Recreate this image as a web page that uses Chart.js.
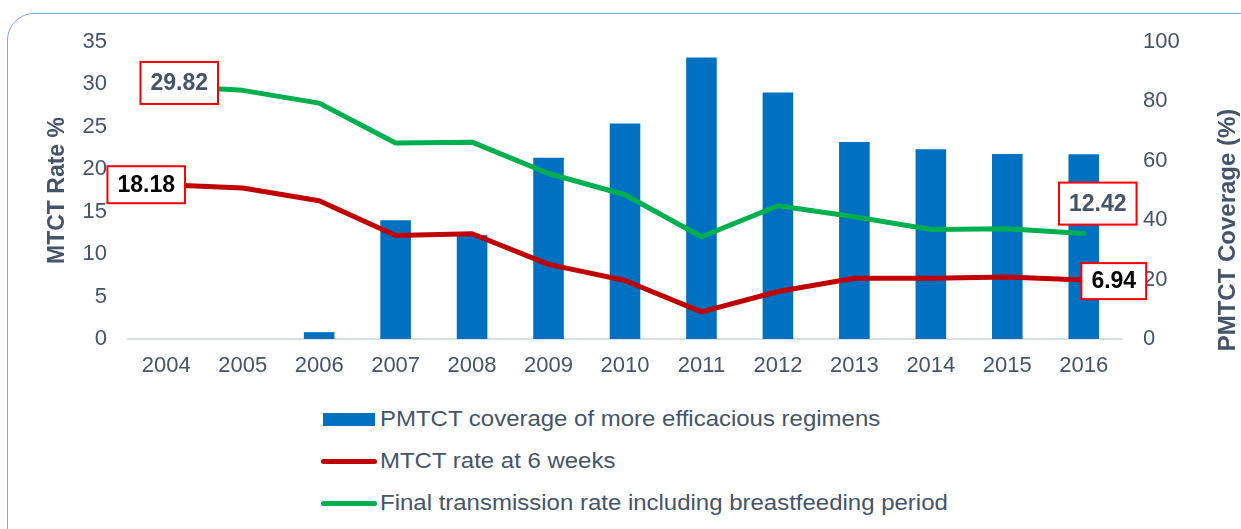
<!DOCTYPE html>
<html>
<head>
<meta charset="utf-8">
<script src="https://cdn.jsdelivr.net/npm/chart.js"></script>
<style>
  body { margin: 0; background: #fff; font-family: "Liberation Sans", Arial, sans-serif; }
  .rahmen {
    position: absolute; left: 7px; top: 13px; width: 1262px; height: 560px;
    border: 1.5px solid #7fa8da; border-radius: 27px; box-sizing: border-box;
  }
  .grafik-kutu { position: absolute; left: 0; top: 0; width: 1241px; height: 390px; }
  .lejant { position: absolute; left: 321px; height: 30px; display: flex; align-items: center;
    font-size: 22px; color: #44546a; white-space: nowrap; }
  .lejant .kutu { width: 52px; height: 13px; margin-left: 2px; margin-right: 5px; }
  .lejant .cizgi { width: 56px; height: 5px; border-radius: 3px; margin-right: 3px; }
  .lejant .metin { display: inline-block; transform: scaleX(1.09); transform-origin: left center; }
</style>
</head>
<body>
<div class="rahmen"></div>
<div class="grafik-kutu"><canvas id="grafik"></canvas></div>
<div class="lejant" style="top:404px"><span class="kutu" style="background:#0070c0"></span><span class="metin">PMTCT coverage of more efficacious regimens</span></div>
<div class="lejant" style="top:446px"><span class="cizgi" style="background:#c00000"></span><span class="metin">MTCT rate at 6 weeks</span></div>
<div class="lejant" style="top:488px"><span class="cizgi" style="background:#00b050"></span><span class="metin">Final transmission rate including breastfeeding period</span></div>
<script>
const yillar = ["2004", "2005", "2006", "2007", "2008", "2009", "2010", "2011", "2012", "2013", "2014", "2015", "2016"];
const kapsam = [0, 0, 2.3, 40, 35, 61, 72.6, 94.8, 83, 66.3, 63.9, 62.3, 62.2];
const altiHafta = [18.18, 17.8, 16.3, 12.2, 12.4, 8.8, 6.9, 3.2, 5.6, 7.15, 7.15, 7.3, 6.94];
const sonOran = [29.82, 29.3, 27.8, 23.1, 23.2, 19.5, 17.0, 12.05, 15.7, 14.4, 12.9, 13.0, 12.42];
const solTikler = [0, 5, 10, 15, 20, 25, 30, 35];
const sagTikler = [0, 20, 40, 60, 80, 100];

const yaziRengi = "#44546a";
Chart.defaults.font.family = "'Liberation Sans', Arial, sans-serif";

// kirmizi cerceveli etiketler: dataset, nokta, kayma, kutu yuksekligi
const etiketler = [
  { ds: 2, i: 0, dx: 13, dy: -3, h: 42, renk: yaziRengi },
  { ds: 1, i: 0, dx: -20, dy: 0, h: 37, renk: "#000" },
  { ds: 2, i: 12, dx: 14, dy: -30, h: 42, renk: yaziRengi },
  { ds: 1, i: 12, dx: 30, dy: 1, h: 36, renk: "#000" }
];

const etiketEklentisi = {
  id: "etiketler",
  afterDatasetsDraw(chart) {
    const ctx = chart.ctx;
    ctx.save();
    ctx.font = "bold 23px 'Liberation Sans', Arial, sans-serif";
    ctx.textAlign = "center";
    ctx.textBaseline = "middle";
    etiketler.forEach((e) => {
      const nokta = chart.getDatasetMeta(e.ds).data[e.i];
      const deger = chart.data.datasets[e.ds].data[e.i].toFixed(2);
      const x = nokta.x + e.dx;
      const y = nokta.y + e.dy;
      const w = ctx.measureText(deger).width + 20;
      ctx.fillStyle = "#fff";
      ctx.fillRect(x - w / 2, y - e.h / 2, w, e.h);
      ctx.strokeStyle = "#ff0000";
      ctx.lineWidth = 2;
      ctx.strokeRect(x - w / 2, y - e.h / 2, w, e.h);
      ctx.fillStyle = e.renk;
      ctx.fillText(deger, x, y + 1);
    });
    ctx.restore();
  },
  afterDraw(chart) {
    // sag eksen basligi, referansta biraz asagida duruyor
    const ctx = chart.ctx;
    ctx.save();
    ctx.translate(1228, 230);
    ctx.rotate(-Math.PI / 2);
    ctx.font = "bold 24px 'Liberation Sans', Arial, sans-serif";
    ctx.fillStyle = yaziRengi;
    ctx.textAlign = "center";
    ctx.textBaseline = "middle";
    ctx.fillText("PMTCT Coverage (%)", 0, 0);
    ctx.restore();
  }
};

new Chart(document.getElementById("grafik"), {
  data: {
    labels: yillar,
    datasets: [
      {
        type: "bar",
        label: "PMTCT coverage of more efficacious regimens",
        data: kapsam,
        yAxisID: "y1",
        backgroundColor: "#0070c0",
        borderWidth: 0,
        barPercentage: 0.4,
        categoryPercentage: 1,
        order: 3
      },
      {
        type: "line",
        label: "MTCT rate at 6 weeks",
        data: altiHafta,
        yAxisID: "y",
        borderColor: "#c00000",
        borderWidth: 5,
        pointRadius: 0,
        tension: 0,
        borderCapStyle: "round",
        borderJoinStyle: "round",
        order: 1
      },
      {
        type: "line",
        label: "Final transmission rate including breastfeeding period",
        data: sonOran,
        yAxisID: "y",
        borderColor: "#00b050",
        borderWidth: 5,
        pointRadius: 0,
        tension: 0,
        borderCapStyle: "round",
        borderJoinStyle: "round",
        order: 2
      }
    ]
  },
  options: {
    responsive: true,
    maintainAspectRatio: false,
    animation: false,
    layout: { padding: { top: 42, bottom: 0, left: 0, right: 0 } },
    plugins: {
      legend: { display: false },
      tooltip: { enabled: false }
    },
    scales: {
      x: {
        offset: true,
        grid: { display: false, drawTicks: false },
        border: { display: true, color: "#d9dee6", width: 2 },
        ticks: { color: yaziRengi, font: { size: 22 }, padding: 14 },
        afterFit: (s) => { s.height = 51; }
      },
      y: {
        position: "left",
        min: 0,
        max: 35,
        afterBuildTicks: (s) => { s.ticks = solTikler.map((v) => ({ value: v })); },
        grid: { display: false, drawTicks: false },
        border: { display: false },
        ticks: { color: yaziRengi, font: { size: 22 }, padding: 21 },
        title: {
          display: true,
          text: "MTCT Rate %",
          color: yaziRengi,
          font: { size: 23, weight: "bold" },
          padding: { top: 44, bottom: 0 }
        },
        afterFit: (s) => { s.width = 128; }
      },
      y1: {
        position: "right",
        min: 0,
        max: 100,
        afterBuildTicks: (s) => { s.ticks = sagTikler.map((v) => ({ value: v })); },
        grid: { display: false, drawTicks: false },
        border: { display: false },
        ticks: { color: yaziRengi, font: { size: 22 }, padding: 21 },
        afterFit: (s) => { s.width = 119; }
      }
    }
  },
  plugins: [etiketEklentisi]
});
</script>
</body>
</html>
